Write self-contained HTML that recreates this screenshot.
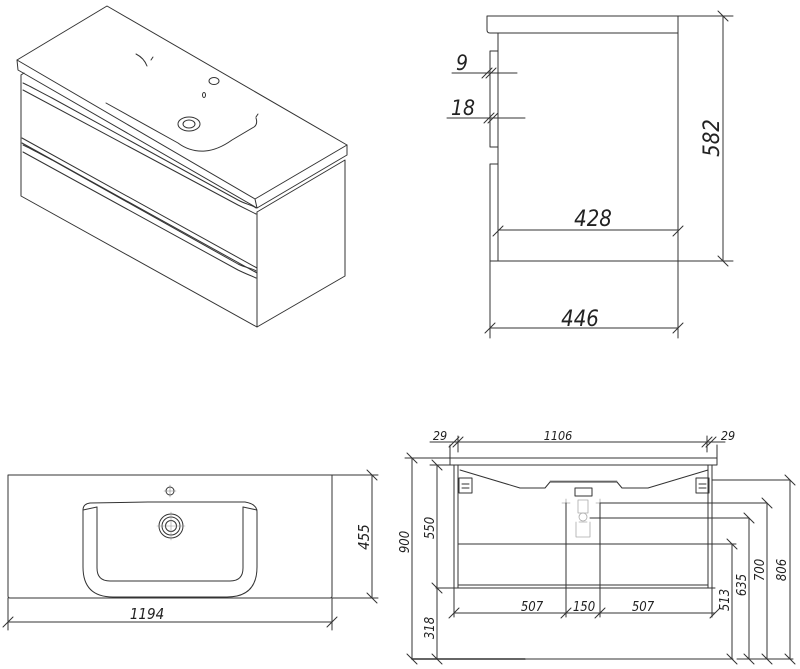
<!DOCTYPE html>
<html><head><meta charset="utf-8"><style>
html,body{margin:0;padding:0;background:#fff;}
svg{display:block;}
text{font-family:"DejaVu Sans Condensed","Liberation Sans",sans-serif;font-style:italic;fill:#222;}
</style></head><body>
<svg width="800" height="669" viewBox="0 0 800 669" xmlns="http://www.w3.org/2000/svg">
<g fill="none" stroke="#333" stroke-width="1" stroke-linejoin="round" stroke-linecap="round">
<!-- Isometric view -->
<path d="M17,60 L107,6 L347,145 L255,199 Z" />
<path d="M17,60 L18,70 L257,208 L255,199" />
<path d="M347,145 L347,155 L257,208" />
<path d="M21,75 L21,196 L257,327 L257,212" />
<path d="M257,212 L345,160 L345,276 L257,327" />
<path d="M21,75 L24,73" />
<path d="M22,138 L257,268" />
<path d="M22,143 L257,273" />
<path d="M23,83 C30,86 40,92 52,98 L238,200 C245,204 252,205 256,208" />
<path d="M23,90 L238,205 C246,209 252,212 256,214" />
<path d="M23,145 C30,148 40,154 52,160 L238,264 C246,268 252,268 256,271" />
<path d="M23,152 L238,270 C246,274 252,276 256,278" />
<path d="M106,103 L178,143 Q190,152 205,151 Q218,150 232,140 L254,127 Q258,124 256,118" />
<path d="M136,54 Q144,58 147,66" /><path d="M151,60 L153,57" />
<path d="M256,117 L258,114" />
<ellipse cx="189" cy="124" rx="11" ry="7"/><ellipse cx="189" cy="124" rx="6" ry="4"/>
<ellipse cx="214" cy="81" rx="5" ry="3.5"/><ellipse cx="204" cy="95" rx="1.5" ry="2.5"/>

<!-- Side view -->
<path d="M487,16 L678,16 L678,33 L490,33 Q487,33 487,30 Z"/>
<path d="M498,33 L498,261 L678,261 L678,33"/>
<rect x="490" y="51" width="8" height="96"/>
<rect x="490" y="164" width="8" height="97"/>
<path d="M498,230 L678,230 M493,236 L503,226 M673,236 L683,226"/>
<path d="M490,261 L490,338 M678,261 L678,338 M490,328 L678,328 M485,333 L495,323 M673,333 L683,323"/>
<path d="M678,16 L733,16 M678,261 L733,261 M723,16 L723,261 M718,11 L728,21 M718,256 L728,266"/>
<path d="M452,73 L517,73 M482,78 L492,68 M486,78 L496,68"/>
<path d="M447,118 L525,118 M484,123 L494,113 M488,123 L498,113"/>

<!-- Plan view -->
<path d="M8,475 L332,475 L332,596 Q332,598 330,598 L10,598 Q8,598 8,596 Z"/>
<path d="M83,510 Q83,504 90,503 L148,502 L245,502 Q257,504 257,512 L257,567 Q257,597 227,597 L113,597 Q83,597 83,567 Z"/>
<path d="M97,507 L97,568 Q97,581 110,581 L230,581 Q243,581 243,568 L243,507"/>
<path d="M83,510 L97,507 M257,510 L243,507"/>
<circle cx="171" cy="526" r="12"/><circle cx="171" cy="526" r="9"/><circle cx="171" cy="526" r="5.5"/>
<circle cx="170" cy="491" r="4"/>
<path d="M164,491 L176,491 M170,485 L170,497" stroke="#888" stroke-width="0.6"/>
<path d="M157,526 L185,526 M171,512 L171,540" stroke="#999" stroke-width="0.6"/>
<path d="M332,475 L378,475 M332,598 L378,598 M372,475 L372,598 M367,470 L377,480 M367,593 L377,603"/>
<path d="M8,598 L8,630 M332,598 L332,630 M8,622 L332,622 M3,627 L13,617 M327,627 L337,617"/>

<!-- Front view -->
<path d="M450,458 L717,458 L717,465 L450,465 Z"/>
<path d="M454,465 L454,588 M458,465 L458,588 M708,465 L708,588 M712,465 L712,588"/>
<path d="M436,588 L715,588 M458,585 L708,585"/>
<path d="M458,544 L736,544"/>
<path d="M460,470 L520,488 L545,488 L550,482 L617,482 L622,488 L648,488 L708,470"/>
<path d="M550,481 L617,481" stroke-width="0.6"/>
<rect x="575" y="488" width="17" height="8"/>
<rect x="459" y="478" width="13" height="15"/><rect x="696" y="478" width="13" height="15"/>
<path d="M462,484 L469,484 M462,488 L469,488 M699,484 L706,484 M699,488 L706,488"/>
<g stroke="#aaa" stroke-width="0.8">
<path d="M562,503 L570,503 M566,499 L566,507 M596,503 L604,503 M600,499 L600,507"/>
<circle cx="583" cy="517" r="4"/><rect x="578" y="500" width="10" height="13"/><path d="M576,522 L576,537 L590,537 L590,522 M579,522 L587,522"/>
</g>
<path d="M566,503 L566,617 M600,503 L600,617"/>
<path d="M600,503 L767,503 M590,518 L749,518 M712,480 L790,480"/>
<path d="M458,436 L458,452 M707,436 L707,452 M430,442 L725,442 M453,447 L463,437 M449,447 L459,437 M702,447 L712,437 M706,447 L716,437"/>
<path d="M450,445 L450,458 M717,445 L717,458"/>
<path d="M454,588 L454,617 M712,588 L712,617 M454,613 L715,613 M449,618 L459,608 M561,618 L571,608 M595,618 L605,608 M710,618 L720,608"/>
<path d="M405,458 L450,458 M412,458 L412,659 M407,453 L417,463 M407,654 L417,664"/>
<path d="M430,465 L454,465 M437,465 L437,659 M432,460 L442,470 M432,583 L442,593 M432,654 L442,664"/>
<path d="M412,659 L525,659" stroke-width="1.6"/>
<path d="M525,659 L733,659 M737,659 L793,659"/>
<path d="M732,544 L732,659 M727,539 L737,549 M727,654 L737,664"/>
<path d="M749,518 L749,659 M744,513 L754,523 M744,654 L754,664"/>
<path d="M767,503 L767,659 M762,498 L772,508 M762,654 L772,664"/>
<path d="M790,480 L790,659 M785,475 L795,485 M785,654 L795,664"/>
</g>

<g>
<text x="593" y="226" font-size="22" text-anchor="middle">428</text>
<text x="580" y="326" font-size="22" text-anchor="middle">446</text>
<text x="462" y="70" font-size="21" text-anchor="middle">9</text>
<text x="463" y="115" font-size="21" text-anchor="middle">18</text>
<text transform="translate(719,138) rotate(-90)" font-size="22" text-anchor="middle">582</text>
<text x="147" y="619" font-size="15" text-anchor="middle">1194</text>
<text transform="translate(369,537) rotate(-90)" font-size="15" text-anchor="middle">455</text>
<text x="558" y="440" font-size="12.5" text-anchor="middle">1106</text>
<text x="440" y="440" font-size="12.5" text-anchor="middle">29</text>
<text x="728" y="440" font-size="12.5" text-anchor="middle">29</text>
<text x="532" y="611" font-size="13" text-anchor="middle">507</text>
<text x="584" y="611" font-size="13" text-anchor="middle">150</text>
<text x="643" y="611" font-size="13" text-anchor="middle">507</text>
<text transform="translate(409,542) rotate(-90)" font-size="13" text-anchor="middle">900</text>
<text transform="translate(434,528) rotate(-90)" font-size="13" text-anchor="middle">550</text>
<text transform="translate(434,628) rotate(-90)" font-size="13" text-anchor="middle">318</text>
<text transform="translate(729,600) rotate(-90)" font-size="13" text-anchor="middle">513</text>
<text transform="translate(746,585) rotate(-90)" font-size="13" text-anchor="middle">635</text>
<text transform="translate(764,570) rotate(-90)" font-size="13" text-anchor="middle">700</text>
<text transform="translate(786,570) rotate(-90)" font-size="13" text-anchor="middle">806</text>
</g>
</svg>
</body></html>
